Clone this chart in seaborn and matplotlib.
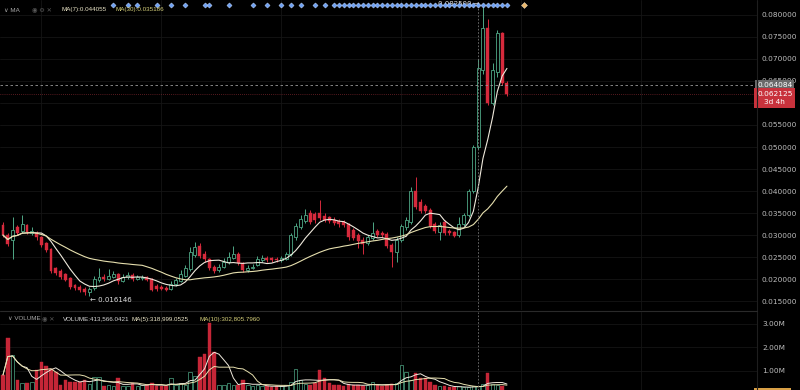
import numpy as np
import pandas as pd
import matplotlib
matplotlib.use("Agg")
import matplotlib.pyplot as plt
from matplotlib.lines import Line2D
import seaborn as sns

# ---- OHLC candles (price) ----
opens = [0.0323, 0.0300, 0.0290, 0.0318, 0.0310, 0.0322, 0.0305, 0.0305, 0.0295, 0.0282,
         0.0268, 0.0225, 0.0218, 0.0212, 0.0202, 0.0186, 0.0182, 0.0178, 0.0170, 0.0180,
         0.0198, 0.0205, 0.0200, 0.0206, 0.0212, 0.0196, 0.0205, 0.0210, 0.0200, 0.0202,
         0.0205, 0.0200, 0.0185, 0.0182, 0.0180, 0.0178, 0.0188, 0.0196, 0.0208, 0.0222,
         0.0255, 0.0275, 0.0258, 0.0245, 0.0228, 0.0220, 0.0228, 0.0238, 0.0248, 0.0258,
         0.0236, 0.0220, 0.0225, 0.0232, 0.0244, 0.0248, 0.0247, 0.0246, 0.0244, 0.0246,
         0.0256, 0.0295, 0.0318, 0.0332, 0.0350, 0.0348, 0.0350, 0.0344, 0.0340, 0.0335,
         0.0332, 0.0330, 0.0325, 0.0312, 0.0300, 0.0290, 0.0282, 0.0294, 0.0310, 0.0305,
         0.0302, 0.0278, 0.0262, 0.0290, 0.0318, 0.0330, 0.0400, 0.0376, 0.0365, 0.0358,
         0.0325, 0.0308, 0.0330, 0.0310, 0.0306, 0.0300, 0.0325, 0.0345, 0.0400, 0.0500,
         0.0675, 0.0770, 0.0600, 0.0670, 0.0758, 0.0645]
highs = [0.0330, 0.0305, 0.0340, 0.0322, 0.0345, 0.0326, 0.0318, 0.0310, 0.0298, 0.0285,
         0.0270, 0.0228, 0.0222, 0.0215, 0.0205, 0.0190, 0.0186, 0.0182, 0.0182, 0.0208,
         0.0225, 0.0212, 0.0222, 0.0218, 0.0214, 0.0212, 0.0216, 0.0214, 0.0210, 0.0210,
         0.0208, 0.0203, 0.0190, 0.0186, 0.0184, 0.0195, 0.0202, 0.0220, 0.0232, 0.0272,
         0.0285, 0.0282, 0.0264, 0.0248, 0.0232, 0.0235, 0.0248, 0.0262, 0.0275, 0.0262,
         0.0240, 0.0232, 0.0234, 0.0252, 0.0254, 0.0252, 0.0250, 0.0250, 0.0252, 0.0262,
         0.0305, 0.0328, 0.0345, 0.0360, 0.0356, 0.0352, 0.0380, 0.0350, 0.0344, 0.0340,
         0.0336, 0.0334, 0.0328, 0.0316, 0.0304, 0.0295, 0.0300, 0.0330, 0.0314, 0.0310,
         0.0306, 0.0282, 0.0295, 0.0326, 0.0340, 0.0410, 0.0432, 0.0382, 0.0370, 0.0362,
         0.0330, 0.0330, 0.0334, 0.0314, 0.0310, 0.0340, 0.0350, 0.0405, 0.0505, 0.0700,
         0.0825, 0.0790, 0.0690, 0.0765, 0.0762, 0.0650]
lows = [0.0295, 0.0275, 0.0245, 0.0300, 0.0305, 0.0303, 0.0300, 0.0290, 0.0274, 0.0262,
        0.0214, 0.0210, 0.0200, 0.0195, 0.0178, 0.0176, 0.0170, 0.0165, 0.016146, 0.0176,
        0.0194, 0.0196, 0.0197, 0.0202, 0.0190, 0.0193, 0.0200, 0.0196, 0.0197, 0.0199,
        0.0195, 0.0172, 0.0174, 0.0175, 0.0172, 0.0176, 0.0185, 0.0194, 0.0205, 0.0218,
        0.0250, 0.0248, 0.0240, 0.0220, 0.0214, 0.0216, 0.0225, 0.0235, 0.0245, 0.0232,
        0.0216, 0.0217, 0.0222, 0.0230, 0.0240, 0.0240, 0.0239, 0.0240, 0.0240, 0.0243,
        0.0252, 0.0290, 0.0314, 0.0328, 0.0326, 0.0328, 0.0334, 0.0330, 0.0328, 0.0324,
        0.0318, 0.0318, 0.0290, 0.0290, 0.0270, 0.0258, 0.0278, 0.0290, 0.0296, 0.0296,
        0.0270, 0.0228, 0.0240, 0.0285, 0.0312, 0.0326, 0.0360, 0.0350, 0.0350, 0.0316,
        0.0305, 0.0290, 0.0300, 0.0300, 0.0295, 0.0296, 0.0320, 0.0340, 0.0395, 0.0495,
        0.0665, 0.0595, 0.0595, 0.0660, 0.0640, 0.0615]
closes = [0.0300, 0.0280, 0.0312, 0.0305, 0.0325, 0.0308, 0.0310, 0.0295, 0.0278, 0.0266,
          0.0218, 0.0214, 0.0204, 0.0198, 0.0182, 0.0180, 0.0175, 0.0170, 0.0178, 0.0200,
          0.0205, 0.0200, 0.0208, 0.0212, 0.0195, 0.0205, 0.0210, 0.0200, 0.0205, 0.0206,
          0.0198, 0.0176, 0.0178, 0.0178, 0.0176, 0.0190, 0.0198, 0.0212, 0.0225, 0.0262,
          0.0272, 0.0252, 0.0245, 0.0225, 0.0218, 0.0228, 0.0240, 0.0250, 0.0258, 0.0236,
          0.0220, 0.0226, 0.0228, 0.0246, 0.0248, 0.0244, 0.0243, 0.0244, 0.0247, 0.0258,
          0.0300, 0.0320, 0.0337, 0.0346, 0.0330, 0.0334, 0.0338, 0.0334, 0.0332, 0.0328,
          0.0326, 0.0322, 0.0296, 0.0294, 0.0286, 0.0280, 0.0295, 0.0305, 0.0300, 0.0300,
          0.0275, 0.0262, 0.0290, 0.0320, 0.0334, 0.0400, 0.0364, 0.0355, 0.0355, 0.0320,
          0.0310, 0.0322, 0.0305, 0.0305, 0.0298, 0.0325, 0.0345, 0.0400, 0.0500, 0.0680,
          0.0770, 0.0600, 0.0675, 0.0758, 0.0645, 0.062125]

# ---- traded volume per candle, millions ----
volumes_m = [0.83, 2.40, 1.68, 0.62, 0.50, 0.50, 0.55, 1.04, 1.38, 1.20,
             1.10, 0.95, 0.40, 0.60, 0.55, 0.55, 0.55, 0.62, 0.45, 0.75,
             0.75, 0.35, 0.40, 0.35, 0.70, 0.35, 0.35, 0.50, 0.35, 0.40,
             0.40, 0.50, 0.35, 0.35, 0.35, 0.70, 0.40, 0.50, 0.40, 0.95,
             0.80, 1.60, 1.72, 3.05, 1.80, 0.40, 0.40, 0.50, 0.40, 0.40,
             0.62, 0.40, 0.35, 0.40, 0.35, 0.35, 0.30, 0.35, 0.35, 0.40,
             0.55, 1.10, 0.60, 0.45, 0.40, 0.50, 1.04, 0.70, 0.50, 0.40,
             0.40, 0.35, 0.45, 0.40, 0.40, 0.35, 0.40, 0.55, 0.40, 0.35,
             0.40, 0.45, 0.50, 1.25, 0.95, 0.60, 0.90, 0.70, 0.70, 0.55,
             0.40, 0.35, 0.35, 0.30, 0.30, 0.35, 0.30, 0.30, 0.35, 0.35,
             0.45, 0.90, 0.45, 0.40, 0.35, 0.12]

# candles carrying a signal marker on the top strip
signal_idx = [23, 26, 28, 32, 35, 38, 42, 43, 47, 52, 55, 58, 60, 62, 65, 67] + list(range(69, 106))
pending_idx = [108.5]

price_ticks = [0.015, 0.020, 0.025, 0.030, 0.035, 0.040, 0.045, 0.050,
               0.055, 0.060, 0.065, 0.070, 0.075, 0.080]
volume_ticks = [1.0, 2.0, 3.0]
volume_tick_labels = ["1.00M", "2.00M", "3.00M"]

crosshair_idx = 99
hover_price = 0.064084
last_price = 0.062125
countdown = "3d 4h"
ma7_label, ma30_label = "MA(7):0.044055", "MA(30):0.035186"
vol_label = "VOLUME:413,566.0421"
vma5_label, vma10_label = "MA(5):318,999.0525", "MA(10):302,805.7960"

df = pd.DataFrame({"open": opens, "high": highs, "low": lows, "close": closes, "vol": volumes_m})
df["i"] = np.arange(len(df))
df["ma7"] = df["close"].rolling(7, min_periods=1).mean()
df["ma30"] = df["close"].rolling(30, min_periods=1).mean()
df["vma5"] = df["vol"].rolling(5, min_periods=1).mean()
df["vma10"] = df["vol"].rolling(10, min_periods=1).mean()
up = df["close"] >= df["open"]

sns.set_style("dark")
plt.rcParams["font.family"] = ["DejaVu Sans"]

RED = "#d62a3c"
GREEN = "#4fa886"
BG = "#000000"
TXT = "#bdbdbd"
GRID = "#151515"

W, H = 800, 390
fig = plt.figure(figsize=(W / 100, H / 100), dpi=100, facecolor=BG)


def rect(x0, y0, x1, y1):
    return [x0 / W, 1 - y1 / H, (x1 - x0) / W, (y1 - y0) / H]


ax = fig.add_axes(rect(0, 0, 757, 310))
axv = fig.add_axes(rect(0, 312, 757, 390), sharex=ax)
for a in (ax, axv):
    a.set_facecolor(BG)
    for s in a.spines.values():
        s.set_visible(False)
    a.grid(False)
    a.tick_params(axis="x", length=0, labelbottom=False)

ax.set_xlim(-0.625, 157.1)
ax.set_ylim(0.0130, 0.08337)
axv.set_ylim(0.19, 3.51)

# grid
for p in price_ticks:
    ax.axhline(p, color=GRID, lw=0.6, zorder=0)
for v in volume_ticks:
    axv.axhline(v, color=GRID, lw=0.6, zorder=0)
for gx in [8, 33, 58, 83, 108, 133]:
    ax.axvline(gx, color=GRID, lw=0.6, zorder=0)
    axv.axvline(gx, color=GRID, lw=0.6, zorder=0)

# candles
cw = 0.62
dn = df[~up]
ax.vlines(dn["i"], dn["low"], dn["high"], color=RED, lw=0.7, zorder=2)
ax.bar(dn["i"], dn["open"] - dn["close"], bottom=dn["close"], width=cw,
       color=RED, edgecolor=RED, lw=0.3, zorder=3)
upd = df[up]
body_top = upd[["open", "close"]].max(axis=1)
body_bot = upd[["open", "close"]].min(axis=1)
ax.vlines(upd["i"], body_top, upd["high"], color=GREEN, lw=0.7, zorder=2)
ax.vlines(upd["i"], upd["low"], body_bot, color=GREEN, lw=0.7, zorder=2)
ax.bar(upd["i"], (body_top - body_bot).clip(lower=0.00012), bottom=body_bot, width=cw,
       facecolor=BG, edgecolor=GREEN, lw=0.6, zorder=3)

# moving averages
sns.lineplot(data=df, x="i", y="ma7", ax=ax, color="#efe9dc", lw=0.8, zorder=4, legend=False)
sns.lineplot(data=df, x="i", y="ma30", ax=ax, color="#e6dfae", lw=0.8, zorder=4, legend=False)

# volume bars
vd = df[~up]
vu = df[up]
axv.bar(vd["i"], vd["vol"], width=0.72, color="#c52637", edgecolor="#c52637", lw=0.3, zorder=2)
axv.bar(vu["i"], vu["vol"], width=0.72, facecolor=BG, edgecolor=GREEN, lw=0.5, zorder=2)
sns.lineplot(data=df, x="i", y="vma5", ax=axv, color="#efe9dc", lw=0.7, zorder=4, legend=False)
sns.lineplot(data=df, x="i", y="vma10", ax=axv, color="#e6dfae", lw=0.7, zorder=4, legend=False)
ax.set_xlabel(""); ax.set_ylabel(""); axv.set_xlabel(""); axv.set_ylabel("")

# crosshair and price lines
for a in (ax, axv):
    a.axvline(crosshair_idx, color="#777777", lw=0.6, ls=(0, (2, 2)), zorder=5)
ax.axhline(hover_price, color="#9a9a9a", lw=0.6, ls=(0, (3, 3)), zorder=5)
ax.axhline(last_price, color="#a8323c", lw=0.5, ls=(0, (1, 2)), zorder=1)

# price axis (the 0.060 level sits under the countdown badge)
ax.yaxis.tick_right()
ax.set_yticks(price_ticks)
ax.set_yticklabels(["" if abs(p - 0.060) < 1e-9 else f"{p:.6f}" for p in price_ticks])
ax.tick_params(axis="y", length=0, pad=3, labelsize=5.3, labelcolor=TXT)
axv.yaxis.tick_right()
axv.set_yticks(volume_ticks)
axv.set_yticklabels(volume_tick_labels)
axv.tick_params(axis="y", length=0, pad=4, labelsize=5.3, labelcolor=TXT)

ytr = ax.get_yaxis_transform()
ax.text(1.0, hover_price, f"{hover_price:.6f}", transform=ytr, ha="left", va="center",
        fontsize=5.3, color="white", clip_on=False, zorder=20,
        bbox=dict(boxstyle="square,pad=0.3", fc="#6a6a6a", ec="none"))
ax.text(1.0, 0.0611, f"{last_price:.6f}\n{countdown}", transform=ytr, ha="left", va="center",
        multialignment="center", fontsize=5.3, color="white", clip_on=False, zorder=20,
        linespacing=1.5, bbox=dict(boxstyle="square,pad=0.35", fc="#c8323c", ec="none"))
axv.text(1.0, 0.05, f"{volumes_m[-1] * 1000:.2f}K", transform=axv.get_yaxis_transform(),
         ha="left", va="center", fontsize=5.3, color="white", clip_on=False, zorder=20,
         bbox=dict(boxstyle="square,pad=0.35", fc="#d9a046", ec="none"))

# extreme markers
hi_i = int(np.argmax(highs))
lo_i = int(np.argmin(lows))
ax.text(hi_i - 0.6, highs[hi_i], f"{highs[hi_i]:.6f} →", ha="right", va="center",
        fontsize=5, color="#e0e0e0", zorder=6)
ax.text(lo_i + 0.2, lows[lo_i] - 0.0008, f"← {lows[lo_i]:.6f}", ha="left", va="center",
        fontsize=5, color="#e0e0e0", zorder=6)

# signal strip
xtr = ax.get_xaxis_transform()
ax.scatter(signal_idx, [0.984] * len(signal_idx), transform=xtr, marker="D", s=7,
           color="#6fa2f5", edgecolor="#cfe0ff", lw=0.3, zorder=6, clip_on=False)
ax.scatter(pending_idx, [0.984] * len(pending_idx), transform=xtr, marker="D", s=9,
           color="#e9b66a", edgecolor="#fff1d6", lw=0.3, zorder=6, clip_on=False)

# panel dividers
fig.add_artist(Line2D([757 / W, 757 / W], [0, 1], color="#1e1e1e", lw=0.8))
fig.add_artist(Line2D([0, 757 / W], [1 - 311 / H, 1 - 311 / H], color="#2a2a2a", lw=0.8))


def ftext(x, y, s, color, size=4.5):
    fig.text(x / W, 1 - y / H, s, color=color, fontsize=size, va="center", ha="left",
             family=["Liberation Sans", "DejaVu Sans"])


ftext(4, 10, "∨ MA", "#a8a8a8")
ftext(32, 10, "◉ ⚙ ✕", "#5a5a5a")
ftext(62, 10, ma7_label, "#ece6c8")
ftext(116, 10, ma30_label, "#d6d07a")
ftext(8, 319, "∨ VOLUME", "#a8a8a8")
ftext(42, 319, "◉ ✕", "#5a5a5a")
ftext(63, 319, vol_label, "#d8d8d8")
ftext(132, 319, vma5_label, "#ece6c8")
ftext(199, 319, vma10_label, "#d6d07a")

fig.savefig("out.png", dpi=100, facecolor=BG)
